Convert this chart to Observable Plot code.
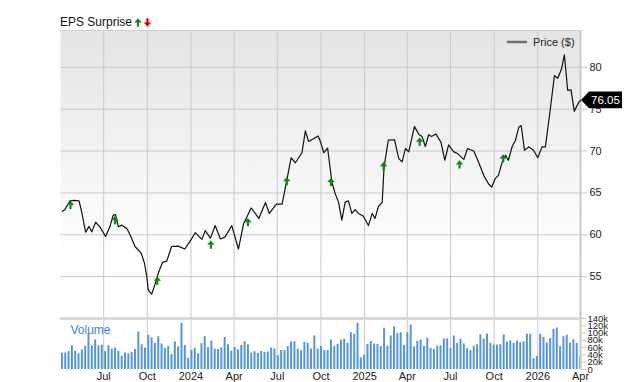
<!DOCTYPE html>
<html><head><meta charset="utf-8">
<script src="https://cdn.jsdelivr.net/npm/d3@7"></script>
<script src="https://cdn.jsdelivr.net/npm/@observablehq/plot@0.6"></script>
<style>
body{margin:0;background:#fff;}
#wrap{position:relative;width:640px;height:382px;}
#wrap svg{display:block;}
</style></head><body><div id="wrap"></div><script>
const FONT = '"Liberation Sans", Arial, sans-serif';

const priceDates = ["2023-04-05","2023-04-10","2023-04-21","2023-04-30","2023-05-10","2023-05-15","2023-05-24","2023-05-31","2023-06-06","2023-06-14","2023-06-23","2023-07-05","2023-07-14","2023-07-21","2023-07-26","2023-08-01","2023-08-08","2023-08-19","2023-08-26","2023-09-05","2023-09-18","2023-09-25","2023-09-30","2023-10-03","2023-10-10","2023-10-18","2023-10-24","2023-11-02","2023-11-11","2023-11-21","2023-12-05","2023-12-19","2023-12-31","2024-01-10","2024-01-24","2024-01-31","2024-02-11","2024-02-21","2024-03-03","2024-03-13","2024-03-27","2024-04-10","2024-04-21","2024-05-07","2024-05-23","2024-06-06","2024-06-14","2024-06-29","2024-07-11","2024-07-21","2024-07-30","2024-08-08","2024-08-22","2024-08-29","2024-09-05","2024-09-25","2024-09-30","2024-10-07","2024-10-15","2024-10-24","2024-10-31","2024-11-07","2024-11-14","2024-11-21","2024-11-28","2024-12-05","2024-12-12","2024-12-19","2024-12-29","2025-01-09","2025-01-17","2025-01-23","2025-01-30","2025-02-07","2025-02-11","2025-02-20","2025-03-05","2025-03-14","2025-03-21","2025-03-28","2025-04-04","2025-04-16","2025-04-25","2025-05-02","2025-05-09","2025-05-16","2025-05-22","2025-05-31","2025-06-11","2025-06-19","2025-06-27","2025-07-08","2025-07-16","2025-07-29","2025-08-06","2025-08-19","2025-08-29","2025-09-09","2025-09-19","2025-09-26","2025-10-03","2025-10-10","2025-10-18","2025-10-25","2025-10-31","2025-11-08","2025-11-15","2025-11-22","2025-11-27","2025-12-04","2025-12-13","2025-12-23","2026-01-01","2026-01-10","2026-01-17","2026-01-27","2026-02-05","2026-02-12","2026-02-20","2026-02-26","2026-03-05","2026-03-12","2026-03-19","2026-03-28","2026-04-01"];
const prices = [62.8,63.0,64.05,64.1,64.05,62.9,60.3,61.0,60.35,61.5,60.95,59.8,60.95,62.35,62.4,60.95,61.15,60.75,59.95,58.6,57.8,56.6,55.0,53.4,52.9,54.2,55.4,56.7,56.85,58.6,58.65,58.3,59.3,60.25,59.45,60.5,59.6,61.1,59.5,59.75,61.1,58.3,61.35,63.2,61.95,63.85,62.55,63.65,63.65,66.5,69.2,68.6,69.8,72.4,71.15,71.8,71.1,69.8,70.35,66.3,64.9,63.9,61.75,63.9,64.05,62.55,63.0,62.55,62.25,61.1,62.55,61.95,63.4,63.85,68.1,71.3,71.35,69.1,68.7,70.3,69.9,72.95,72.0,71.75,70.55,71.95,71.75,72.05,71.05,68.9,70.75,69.9,69.7,69.0,70.3,70.0,68.7,67.1,66.1,65.7,66.7,67.1,68.7,69.5,68.9,70.55,71.3,72.85,73.05,70.1,70.5,70.1,69.2,70.5,70.5,74.85,79.0,78.7,79.8,81.5,77.25,77.3,74.75,75.8,76.05];

const epsDates = ["2023-04-22","2023-07-25","2023-10-22","2024-02-12","2024-04-30","2024-07-21","2024-10-22","2025-02-10","2025-04-27","2025-07-20","2025-10-20"];
const epsLevels = [63.55,61.75,54.5,58.8,61.5,66.4,66.3,68.2,71.1,68.4,69.1];

const volumeFirstWeek = "2023-04-04";
const volumesK = [45,45,49,65,50,43,54,64,99,65,81,65,67,49,65,56,59,50,37,45,43,47,55,103,68,59,94,87,72,90,70,58,64,41,76,62,127,66,31,52,58,43,71,90,60,78,56,55,59,88,68,50,60,54,66,76,68,45,49,44,50,47,48,59,56,38,52,52,63,76,76,56,52,75,72,56,92,56,63,52,52,81,64,69,
81,83,72,101,97,127,32,39,69,77,70,69,63,113,64,92,117,99,101,66,101,122,62,77,81,63,86,58,55,64,65,84,84,57,92,72,83,70,57,52,64,68,95,83,97,72,67,67,68,95,75,79,72,78,74,76,97,97,30,36,97,88,73,85,110,114,63,90,94,73,82,72,34];

const quarterTicks = ["2023-07-01","2023-10-01","2024-01-01","2024-04-01","2024-07-01","2024-10-01","2025-01-01","2025-04-01","2025-07-01","2025-10-01","2026-01-01","2026-04-01"];
const priceTicks = [55,60,65,70,75,80];
const volumeTicksK = [0,20,40,60,80,100,120,140];
const xStart = "2023-04-01", xEnd = "2026-04-01";
const priceMin = 50, priceMax = 84.4;
const lastPrice = 76.05;

const parse = d3.utcParse("%Y-%m-%d");
const priceData = priceDates.map((d, i) => ({date: parse(d), price: prices[i]}));
const epsData = epsDates.map((d, i) => ({date: parse(d), level: epsLevels[i]}));
const wk0 = parse(volumeFirstWeek);
const volData = volumesK.map((v, i) => ({date: d3.utcDay.offset(wk0, 7 * i), vol: v * 1000}));
const xDomain = [parse(xStart), parse(xEnd)];
const qTicks = quarterTicks.map(parse);

const GRID = "#c9c9c9";
const arrowUp = {draw(ctx) {
  ctx.moveTo(0, -4.3); ctx.lineTo(3.7, 0); ctx.lineTo(-3.7, 0); ctx.closePath();
  ctx.moveTo(-1.1, 0); ctx.lineTo(1.1, 0); ctx.lineTo(1.1, 4); ctx.lineTo(-1.1, 4); ctx.closePath();
}};

const price = Plot.plot({
  width: 640, height: 318, marginLeft: 60, marginRight: 60, marginTop: 30, marginBottom: 0,
  style: {fontFamily: FONT, fontSize: "11px", background: "transparent", color: "#222", overflow: "visible"},
  x: {type: "utc", domain: xDomain, axis: null},
  y: {domain: [priceMin, priceMax], axis: null},
  marks: [
    Plot.frame({fill: "url(#pbg)", stroke: "none"}),
    Plot.gridX(qTicks, {stroke: GRID, strokeOpacity: 1}),
    Plot.gridY(priceTicks, {stroke: GRID, strokeOpacity: 1}),
    Plot.axisY(priceTicks, {anchor: "right", label: null, tickSize: 6, tickPadding: 3, stroke: GRID, fill: "#222", fontSize: 11}),
    Plot.ruleY([priceMax], {stroke: "#d0d0d0"}),
    Plot.ruleY([priceMin], {stroke: "#dadada", strokeWidth: 3}),
    Plot.ruleX([xDomain[1]], {stroke: GRID, strokeWidth: 2}),
    Plot.line(priceData, {x: "date", y: "price", stroke: "#111", strokeWidth: 1.2}),
    Plot.dot(epsData, {x: "date", y: "level", symbol: arrowUp, fill: "#118811", stroke: "none"})
  ]
});

const ps = d3.select(price);
const grad = ps.insert("defs", ":first-child").append("linearGradient")
  .attr("id", "pbg").attr("x1", 0).attr("y1", 0).attr("x2", 0).attr("y2", 1);
grad.append("stop").attr("offset", "0%").attr("stop-color", "#e4e4e4");
grad.append("stop").attr("offset", "80%").attr("stop-color", "#ffffff");

// last price badge
const yl = price.scale("y").apply(lastPrice);
const xl = price.scale("x").apply(xDomain[1]);
ps.append("path")
  .attr("d", `M${xl + 1},${yl} L${xl + 9},${yl - 8.3} L${xl + 42},${yl - 8.3} L${xl + 42},${yl + 8.3} L${xl + 9},${yl + 8.3} Z`)
  .attr("fill", "#000");
ps.append("text").attr("x", xl + 25.5).attr("y", yl).attr("dy", "0.36em")
  .attr("text-anchor", "middle").attr("fill", "#fff")
  .style("font-family", FONT).style("font-size", "11.5px").text(lastPrice.toFixed(2));

// legend
ps.append("line").attr("x1", 507).attr("x2", 527).attr("y1", 42).attr("y2", 42)
  .attr("stroke", "#707070").attr("stroke-width", 2.5);
ps.append("text").attr("x", 533).attr("y", 42).attr("dy", "0.36em").attr("fill", "#222")
  .attr("text-anchor", "start")
  .style("font-family", FONT).style("font-size", "11px").text("Price ($)");

// title
ps.append("text").attr("x", 60).attr("y", 22).attr("dy", "0.36em").attr("fill", "#111")
  .attr("text-anchor", "start")
  .style("font-family", FONT).style("font-size", "12px").text("EPS Surprise");
ps.append("path").attr("d", "M138,18.3 L141.7,22.6 L139.1,22.6 L139.1,26.7 L136.9,26.7 L136.9,22.6 L134.3,22.6 Z").attr("fill", "#118811");
ps.append("path").attr("d", "M147.4,26.7 L151.1,22.4 L148.5,22.4 L148.5,18.3 L146.3,18.3 L146.3,22.4 L143.7,22.4 Z").attr("fill", "#e00000");

const volume = Plot.plot({
  width: 640, height: 64, marginLeft: 60, marginRight: 60, marginTop: 0, marginBottom: 13,
  style: {fontFamily: FONT, fontSize: "11px", background: "transparent", color: "#222", overflow: "visible"},
  x: {type: "utc", domain: xDomain, axis: null},
  y: {domain: [0, 140000], axis: null},
  marks: [
    Plot.gridX(qTicks, {stroke: GRID, strokeOpacity: 1}),
    Plot.ruleX(volData, {x: "date", y1: 0, y2: "vol", stroke: "#5597d6", strokeWidth: 2}),
    Plot.axisX(qTicks, {anchor: "bottom", label: null, tickSize: 0, tickPadding: 3, fill: "#222", fontSize: 11,
      tickFormat: d => d.getUTCMonth() === 0 ? String(d.getUTCFullYear()) : d3.utcFormat("%b")(d)}),
    Plot.axisY(volumeTicksK.map(v => v * 1000), {anchor: "right", label: null, tickSize: 5, tickPadding: 2, stroke: GRID, fill: "#222", fontSize: 9.5,
      tickFormat: d => d === 0 ? "0" : (d / 1000) + "k"}),
    Plot.ruleX([xDomain[1]], {stroke: GRID, strokeWidth: 2}),
    Plot.ruleY([140000], {stroke: "#dadada", strokeWidth: 3}),
    Plot.text(["Volume"], {frameAnchor: "top-left", dx: 10, dy: 7, fill: "#3d86cc", fontSize: 12})
  ]
});

const wrap = document.getElementById("wrap");
wrap.appendChild(price);
wrap.appendChild(volume);
</script></body></html>
